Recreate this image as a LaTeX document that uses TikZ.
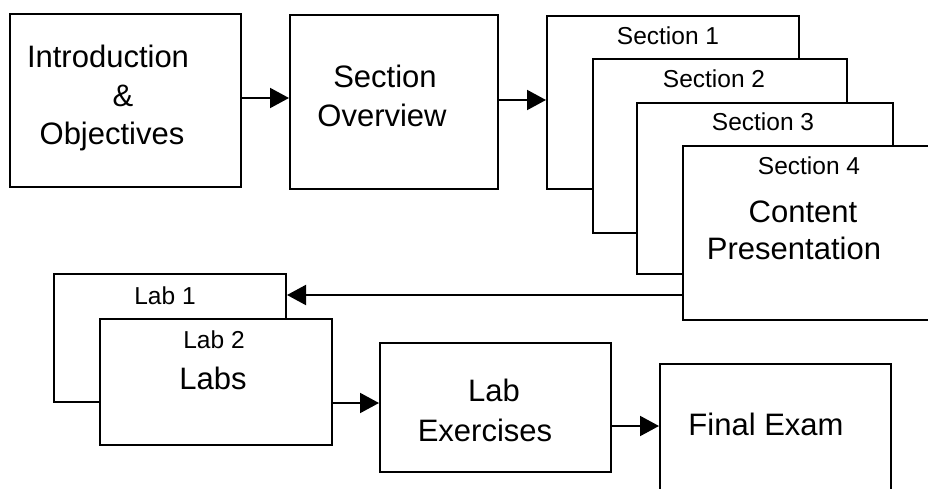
\documentclass[tikz,border=0pt]{standalone}
\usepackage{fontspec}
\setmainfont{Liberation Sans}
\usetikzlibrary{arrows.meta}
\begin{document}
\begin{tikzpicture}[x=1pt,y=-1pt,
  box/.style={draw,line width=2pt,fill=white,inner sep=0pt,anchor=north west},
  big/.style={font=\fontsize{31}{37}\selectfont,anchor=base,inner sep=0pt},
  small/.style={font=\fontsize{24.5}{29}\selectfont,anchor=base,inner sep=0pt},
  arr/.style={line width=2pt,-{Triangle[length=19pt,width=20pt]}}]
\useasboundingbox (0,0) rectangle (928,489);
% top row
\node[box,minimum width=231pt,minimum height=173pt] (intro) at (9,13) {};
\node[box,minimum width=208pt,minimum height=174pt] (over) at (289,14) {};
\node[box,minimum width=252pt,minimum height=173pt] (s1) at (546,15) {};
\node[box,minimum width=254pt,minimum height=174pt] (s2) at (592,58) {};
\node[box,minimum width=256pt,minimum height=171pt] (s3) at (636,102) {};
\node[box,minimum width=260pt,minimum height=174pt] (s4) at (682,145) {};
% bottom row
\node[box,minimum width=232pt,minimum height=128pt] (lab1) at (53,273) {};
\node[box,minimum width=232pt,minimum height=126pt] (lab2) at (99,318) {};
\node[box,minimum width=231pt,minimum height=129pt] (labex) at (379,342) {};
\node[box,minimum width=231pt,minimum height=150pt] (final) at (659,363) {};
% texts
\node[big] (t1) at (108,68) {Introduction};
\node[big] (t2) at (123,107) {\&};
\node[big] (t3) at (112,145) {Objectives};
\node[big] (t4) at (385,88) {Section};
\node[big] (t5) at (382,127) {Overview};
\node[small] (t6) at (668,45) {Section 1};
\node[small] (t7) at (714,88) {Section 2};
\node[small] (t8) at (763,131) {Section 3};
\node[small] (t9) at (809,175) {Section 4};
\node[big] (t10) at (803,222) {Content};
\node[big] (t11) at (794,259) {Presentation};
\node[small] (t12) at (165,304) {Lab 1};
\node[small] (t13) at (214,348) {Lab 2};
\node[big] (t14) at (213,389) {Labs};
\node[big] (t15) at (494,401) {Lab};
\node[big] (t16) at (485,441) {Exercises};
\node[big] (t17) at (766,435) {Final Exam};
% connectors
\draw[arr] (intro.east |- 0,98) -- (over.west |- 0,98);
\draw[arr] (over.east |- 0,100) -- (s1.west |- 0,100);
\draw[arr] (s4.west |- 0,295) -- (lab1.east |- 0,295);
\draw[arr] (lab2.east |- 0,403) -- (labex.west |- 0,403);
\draw[arr] (labex.east |- 0,426) -- (final.west |- 0,426);
\end{tikzpicture}
\end{document}
